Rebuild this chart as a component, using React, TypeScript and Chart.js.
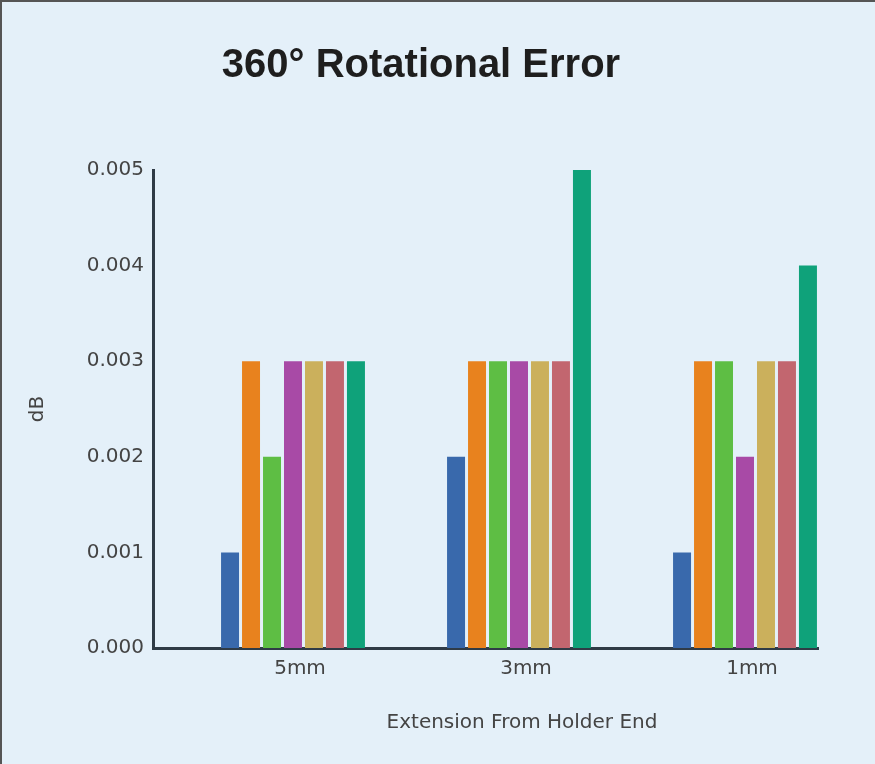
import React, { useEffect, useRef } from "react";
import { Chart, registerables } from "chart.js";

Chart.register(...registerables);

const categories = ["5mm", "3mm", "1mm"];
const seriesNames = ["S1", "S2", "S3", "S4", "S5", "S6", "S7"];
const seriesColors = ["#3969AC", "#E8821E", "#5EBE44", "#A84AA6", "#CBB05C", "#C2666F", "#0FA27A"];
const s1 = [0.001, 0.002, 0.001];
const s2 = [0.003, 0.003, 0.003];
const s3 = [0.002, 0.003, 0.003];
const s4 = [0.003, 0.003, 0.002];
const s5 = [0.003, 0.003, 0.003];
const s6 = [0.003, 0.003, 0.003];
const s7 = [0.003, 0.005, 0.004];
const seriesValues = [s1, s2, s3, s4, s5, s6, s7];
const yTicks = [0, 0.001, 0.002, 0.003, 0.004, 0.005];

const titleText = "360° Rotational Error";
const xTitleText = "Extension From Holder End";
const yTitleText = "dB";

const W = 875;
const H = 764;
const AREA_LEFT = 153;
const AREA_RIGHT = 818;
const AREA_TOP = 170;
const AREA_BOTTOM = 648;
const X_MIN = -(293 - AREA_LEFT) / 226;
const X_MAX = 2 + (AREA_RIGHT - 745) / 226;

const axisFont = "'DejaVu Sans', sans-serif";

const titlesPlugin = {
  id: "customTitles",
  afterDraw(chart: any) {
    const ctx = chart.ctx;
    ctx.save();
    ctx.fillStyle = "#1e1e1e";
    ctx.font = "bold 40px 'Liberation Sans', Arial, sans-serif";
    ctx.textAlign = "center";
    ctx.textBaseline = "alphabetic";
    ctx.fillText(titleText, 421, 77);
    const xs = chart.scales.x;
    const mid = xs.getPixelForValue(1);
    ctx.fillStyle = "#444";
    ctx.font = "20px " + axisFont;
    ctx.fillText(xTitleText, mid + 3, 728);
    ctx.restore();
  },
};

export default function App() {
  const ref = useRef<HTMLCanvasElement | null>(null);

  useEffect(() => {
    const canvas = ref.current;
    if (!canvas) return;
    const chart = new Chart(canvas, {
      type: "bar",
      data: {
        datasets: seriesValues.map((vals, k) => ({
          label: seriesNames[k],
          data: vals.map((v, i) => ({ x: i, y: v })),
          backgroundColor: seriesColors[k],
          borderWidth: 0,
          categoryPercentage: 0.65,
          barPercentage: 0.857,
        })),
      },
      options: {
        responsive: false,
        animation: false,
        layout: { padding: { left: 0, right: W - AREA_RIGHT, top: AREA_TOP, bottom: 0 } },
        plugins: {
          legend: { display: false },
          title: { display: false },
          tooltip: { enabled: false },
        },
        scales: {
          x: {
            type: "linear",
            offset: false,
            bounds: "data",
            min: X_MIN,
            max: X_MAX,
            grid: { display: false, drawTicks: false, offset: false },
            border: { display: true, color: "#2f3b46", width: 3 },
            afterDataLimits: (s: any) => {
              s.min = X_MIN;
              s.max = X_MAX;
            },
            afterBuildTicks: (s: any) => {
              s.ticks = categories.map((_, i) => ({ value: i }));
              s.min = X_MIN;
              s.max = X_MAX;
            },
            afterFit: (s: any) => {
              s.height = H - AREA_BOTTOM;
            },
            ticks: {
              includeBounds: false,
              autoSkip: false,
              maxRotation: 0,
              padding: 9,
              labelOffset: 7,
              color: "#444",
              font: { family: axisFont, size: 20 },
              callback: (v: any) => categories[v as number] ?? "",
            },
          },
          y: {
            min: 0,
            max: 0.005,
            grid: { display: false, drawTicks: false },
            border: { display: true, color: "#2f3b46", width: 3 },
            afterBuildTicks: (s: any) => {
              s.ticks = yTicks.map((v) => ({ value: v }));
            },
            afterFit: (s: any) => {
              s.width = AREA_LEFT;
            },
            title: {
              display: true,
              text: yTitleText,
              color: "#444",
              font: { family: axisFont, size: 20 },
              padding: { top: 26, bottom: 0 },
            },
            ticks: {
              padding: 9,
              color: "#444",
              font: { family: axisFont, size: 20 },
              callback: (v: any) => Number(v).toFixed(3),
            },
          },
        },
      },
      plugins: [titlesPlugin],
    } as any);
    return () => chart.destroy();
  }, []);

  return (
    <div
      style={{
        position: "fixed",
        left: 0,
        top: 0,
        width: W,
        height: H,
        background: "#E4F0F9",
        overflow: "hidden",
      }}
    >
      <canvas ref={ref} width={W} height={H} style={{ position: "absolute", left: 0, top: 0 }} />
      <div
        style={{
          position: "absolute",
          left: 0,
          top: 0,
          width: W,
          height: H,
          boxSizing: "border-box",
          borderLeft: "2px solid #555",
          borderTop: "2px solid #555",
          pointerEvents: "none",
        }}
      />
    </div>
  );
}
